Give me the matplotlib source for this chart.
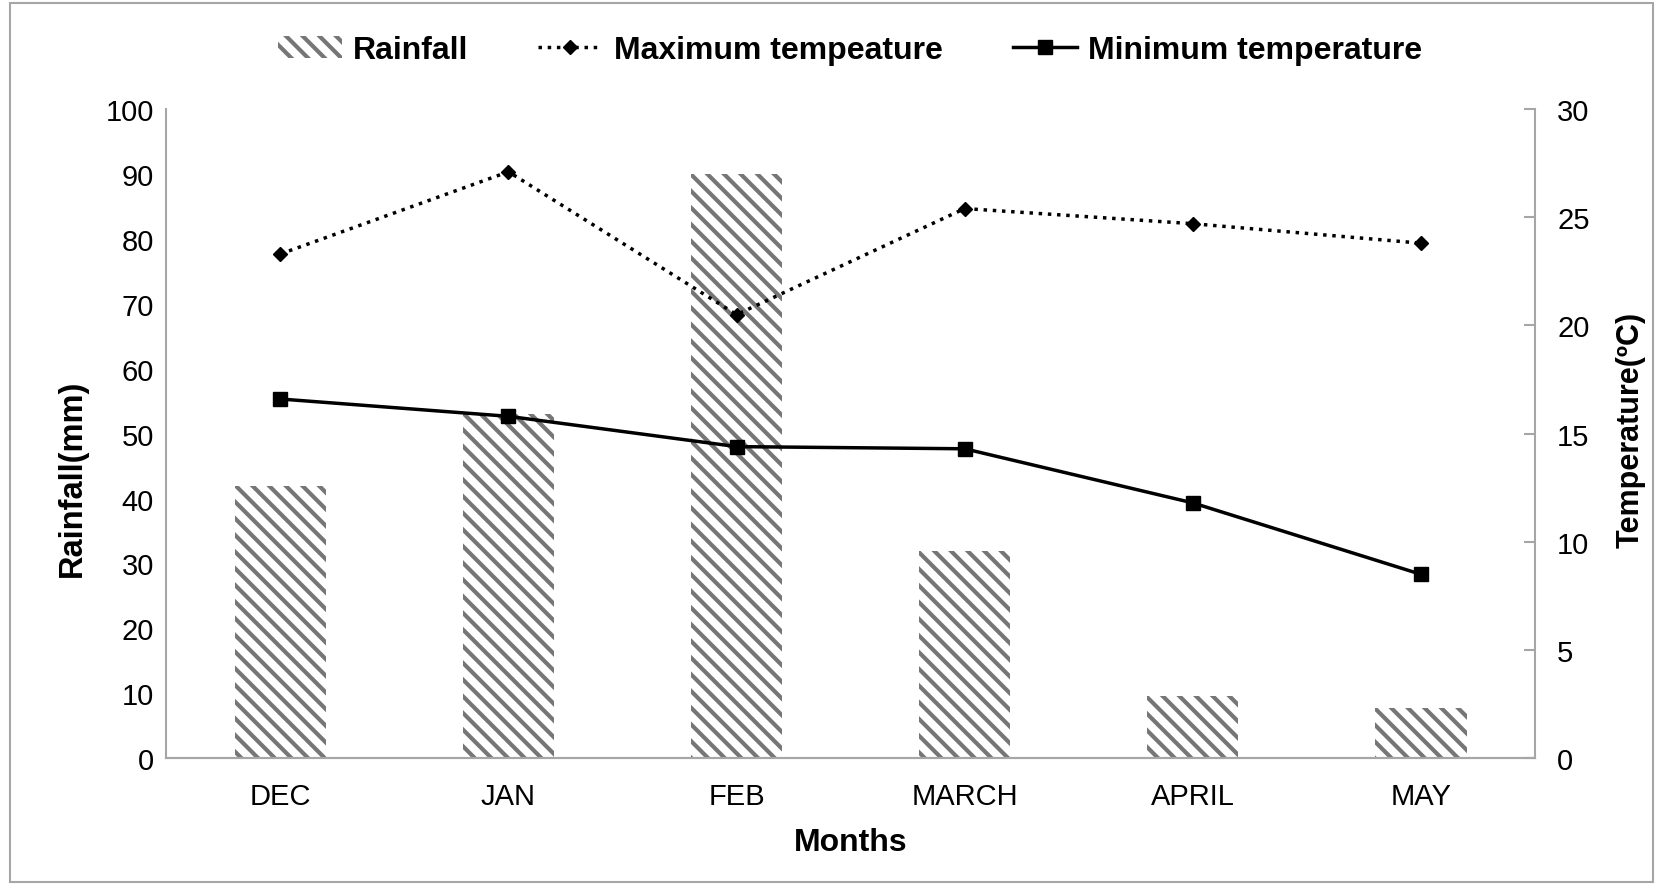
import matplotlib
matplotlib.use('Agg')
import matplotlib.pyplot as plt
import numpy as np

plt.rcParams['font.family'] = ['Liberation Sans', 'DejaVu Sans']
plt.rcParams['hatch.linewidth'] = 3.0

months = ['DEC', 'JAN', 'FEB', 'MARCH', 'APRIL', 'MAY']
rainfall = [42, 53, 90, 32, 9.6, 7.8]
max_temp = [23.3, 27.1, 20.5, 25.4, 24.7, 23.8]
min_temp = [16.6, 15.8, 14.4, 14.3, 11.8, 8.5]

grey = '#a6a6a6'
hatch_grey = '#767676'

fig = plt.figure(figsize=(16.63, 8.87), dpi=100)
ax = fig.add_axes([0.100, 0.144, 0.823, 0.732])
ax2 = ax.twinx()

x = np.arange(len(months))
bars = ax.bar(x, rainfall, width=0.4, color='white', edgecolor=hatch_grey,
              linewidth=0, hatch='\\\\', label='Rainfall', zorder=1)

l1, = ax2.plot(x, max_temp, linestyle=':', color='black', linewidth=2.5,
               marker='D', markersize=7, label='Maximum tempeature')
l2, = ax2.plot(x, min_temp, linestyle='-', color='black', linewidth=2.5,
               marker='s', markersize=10, label='Minimum temperature')

ax.set_xlim(-0.5, len(months) - 0.5)
ax.set_ylim(0, 100)
ax.set_yticks(np.arange(0, 101, 10))
ax2.set_ylim(0, 30)
ax2.set_yticks(np.arange(0, 31, 5))
ax.set_xticks(x)
ax.set_xticklabels(months)

for a in (ax, ax2):
    for s in a.spines.values():
        s.set_color(grey)
        s.set_linewidth(1.5)
    a.spines['top'].set_visible(False)
ax.spines['right'].set_visible(False)
ax2.spines['left'].set_visible(False)

ax.tick_params(axis='y', length=0, labelsize=21, pad=9)
ax.tick_params(axis='x', length=0, labelsize=21, pad=17)
ax2.tick_params(axis='y', direction='in', length=8, color=grey, width=1.5,
                labelsize=21, pad=16)

ax.set_xlabel('Months', fontsize=23, fontweight='bold', labelpad=12)
ax.set_ylabel('Rainfall(mm)', fontsize=23.5, fontweight='bold')
ax2.set_ylabel('Temperature(ºC)', fontsize=22, fontweight='bold')
ax.yaxis.set_label_coords(-0.057, 0.433)
ax2.yaxis.set_label_coords(1.059, 0.507)

fig.legend(handles=[bars, l1, l2], loc='center', bbox_to_anchor=(0.511, 0.942),
           ncol=3, frameon=False, prop={'weight': 'bold', 'size': 23},
           handlelength=2.0, handletextpad=0.35, columnspacing=2.2)

# outer border
fig.patches.append(plt.Rectangle((0.006, 0.005), 0.988, 0.99, transform=fig.transFigure,
                                 fill=False, edgecolor=grey, linewidth=1.5))

plt.savefig('out.png', dpi=100)
